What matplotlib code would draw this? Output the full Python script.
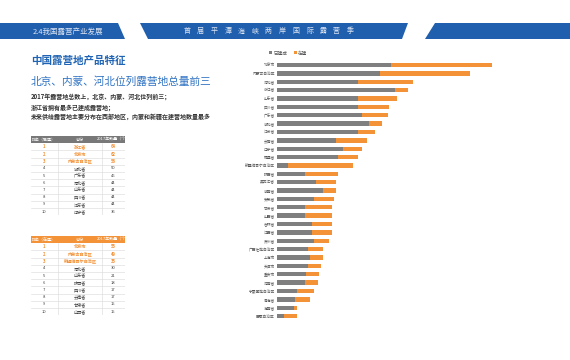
import matplotlib
matplotlib.use("Agg")
import matplotlib.pyplot as plt
from matplotlib.patches import Polygon, Rectangle

plt.rcParams['font.family'] = ['Noto Sans CJK SC', 'DejaVu Sans']

# ---------------- data ----------------
provinces = ["北京市", "内蒙古自治区", "河北省", "浙江省", "山东省", "四川省", "广东省",
             "湖北省", "江苏省", "云南省", "辽宁省", "福建省", "新疆维吾尔自治区", "陕西省",
             "黑龙江省", "湖南省", "安徽省", "甘肃省", "山西省", "吉林省", "江西省", "贵州省",
             "广西壮族自治区", "上海市", "天津市", "重庆市", "河南省", "宁夏回族自治区",
             "青海省", "海南省", "西藏自治区"]
built = [62, 56, 44, 64, 44, 44, 46, 50, 44, 32, 36, 33, 6, 15, 21, 25, 20, 15, 15,
         19, 19, 20, 17, 18, 17, 16, 15, 11, 10, 9, 4]
building = [55, 49, 30, 7, 21, 17, 14, 7, 9, 17, 10, 11, 35, 18, 11, 7, 11, 15, 15,
            11, 11, 8, 8, 7, 7, 7, 7, 9, 8, 2, 7]
legend_labels = ["已建成", "在建"]

header_left = "2.4我国露营产业发展"
header_mid = "首届平潭海峡两岸国际露营季"
title = "中国露营地产品特征"
subtitle = "北京、内蒙、河北位列露营地总量前三"
body = ["2017年露营地总数上，北京、内蒙、河北位列前三；",
        "浙江省拥有最多已建成露营地；",
        "未来供给露营地主要分布在西部地区，内蒙和新疆在建营地数量最多"]
table1_cols = ["排名（已建）", "省份", "2017年数量（个）"]
table2_cols = ["排名（在建）", "省份", "2017年数量（个）"]

GRAY = "#7f7f7f"
ORANGE = "#f39237"
BLUE = "#1f5fae"

W, H = 570, 360
fig = plt.figure(figsize=(W / 100, H / 100), dpi=100)
fig.patch.set_facecolor("white")

def fx(x):
    return x / W

def fy(y):
    return 1 - y / H

# ---------------- header band ----------------
for pts in ([(0, 23), (118, 23), (125, 39), (0, 39)],
            [(140, 23), (408, 23), (402, 39), (148, 39)],
            [(435, 23), (570, 23), (570, 39), (425, 39)]):
    fig.patches.append(Polygon([(fx(a), fy(b)) for a, b in pts], closed=True,
                               transform=fig.transFigure, facecolor=BLUE,
                               edgecolor="none"))
fig.text(fx(68), fy(31.5), header_left, color="#dde5f2", fontsize=5.4,
         ha="center", va="center")
for i, ch in enumerate(header_mid):
    fig.text(fx(187 + i * 13.6), fy(31.5), ch, color="#dde5f2", fontsize=5.0,
             ha="center", va="center")

# ---------------- left texts ----------------
fig.text(fx(31), fy(61), title, color="#1f64b4", fontsize=7.6, fontweight="bold",
         ha="left", va="center")
fig.text(fx(31), fy(82), subtitle, color="#2e72c2", fontsize=7.7,
         ha="left", va="center")
for i, line in enumerate(body):
    fig.text(fx(31), fy(97 + i * 10), line, color="#333333", fontsize=4.3,
             fontweight="bold", ha="left", va="center")

# ---------------- tables ----------------
def draw_table(top_px, cols, header_color, values):
    order = sorted(range(len(values)), key=lambda k: -values[k])[:10]
    left, right = 31, 125
    row_h = 7.2
    ax = fig.add_axes([fx(left), fy(top_px + 11 * row_h), (right - left) / W,
                       11 * row_h / H])
    ax.set_xlim(0, right - left)
    ax.set_ylim(11, 0)
    ax.axis("off")
    ax.add_patch(Rectangle((0, 0), right - left, 1, facecolor=header_color,
                           edgecolor="none"))
    seps = [58 - left, 102 - left]
    centers = [44 - left, 80 - left, 113 - left]
    for c, t in zip(centers, cols):
        ax.text(c, 0.5, t, color="white", fontsize=2.9, ha="center", va="center")
    for i in range(10):
        yb = 2 + i
        ax.plot([0, right - left], [yb, yb], color="#d9d9d9", lw=0.4)
    for s in seps + [right - left - 0.2]:
        ax.plot([s, s], [1, 11], color="#d9d9d9", lw=0.4)
    for r, k in enumerate(order):
        col = ORANGE if r < 3 else "#444444"
        wt = "bold" if r < 3 else "normal"
        yc = 1.5 + r
        ax.text(centers[0], yc, str(r + 1), color=col, fontsize=3.0, ha="center",
                va="center", fontweight=wt)
        ax.text(centers[1], yc, provinces[k], color=col, fontsize=3.0, ha="center",
                va="center", fontweight=wt)
        ax.text(centers[2], yc, str(values[k]), color=col, fontsize=3.0,
                ha="center", va="center", fontweight=wt)

draw_table(136, table1_cols, "#787878", built)
draw_table(236, table2_cols, ORANGE, building)

# ---------------- bar chart ----------------
n = len(provinces)
top_px, step = 65, 8.37
ax = fig.add_axes([fx(277), fy(top_px + (n - 0.5) * step), 221 / W,
                   n * step / H])
ypos = list(range(n))
ax.barh(ypos, built, height=0.52, color=GRAY, label=legend_labels[0])
ax.barh(ypos, building, left=built, height=0.52, color=ORANGE,
        label=legend_labels[1])
ax.set_xlim(0, 120)
ax.set_ylim(n - 0.5, -0.5)
ax.set_yticks(ypos)
ax.set_yticklabels(provinces, fontsize=2.7, color="#555555")
ax.tick_params(axis="y", length=0, pad=1.5)
ax.set_xticks([])
for s in ax.spines.values():
    s.set_visible(False)

leg = fig.legend(loc="center left", bbox_to_anchor=(fx(265), fy(53)), ncol=2,
                 frameon=False, fontsize=3.3, handlelength=0.6, handleheight=0.6,
                 handletextpad=0.3, columnspacing=1.5)
for t in leg.get_texts():
    t.set_color("#555555")

fig.savefig("out.png", dpi=100, facecolor="white")
